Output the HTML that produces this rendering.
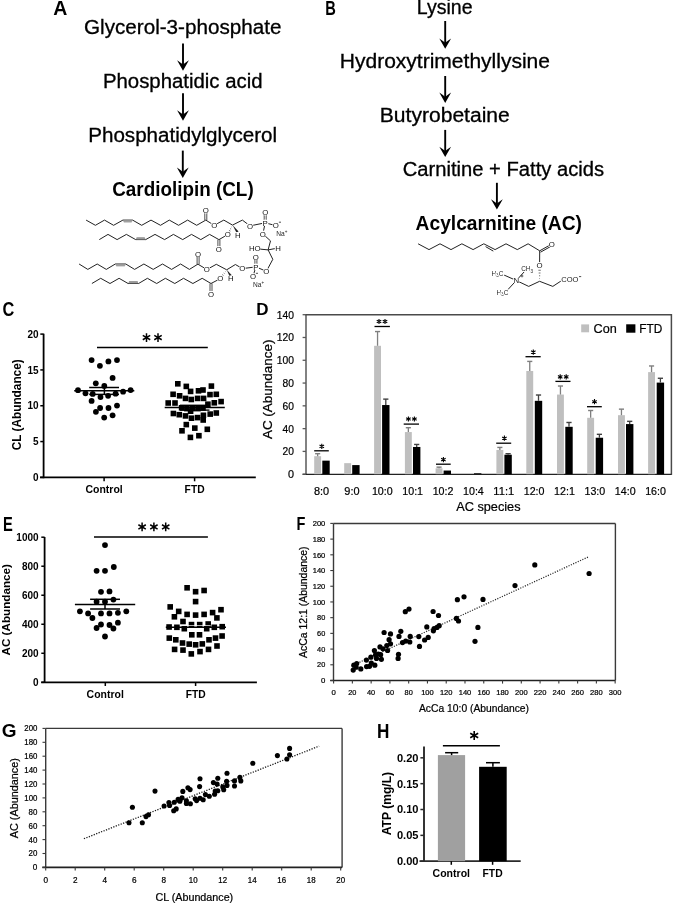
<!DOCTYPE html>
<html><head><meta charset="utf-8"><style>
html,body{margin:0;padding:0;background:#fff;overflow:hidden;}
svg{display:block;will-change:transform;}
</style></head><body>
<svg width="685" height="903" viewBox="0 0 685 903" font-family="Liberation Sans, sans-serif">
<rect width="685" height="903" fill="#fff"/>
<text x="53.3" y="14.8" font-family="Liberation Sans" font-size="19.5" font-weight="bold" text-anchor="start" fill="#000" >A</text>
<text x="84" y="34.2" font-family="Liberation Sans" font-size="19.4" font-weight="normal" text-anchor="start" fill="#000" textLength="197.4" lengthAdjust="spacingAndGlyphs" stroke="#000" stroke-width="0.3">Glycerol-3-phosphate</text>
<line x1="183" y1="43.5" x2="183" y2="65.7" stroke="#000" stroke-width="1.9" />
<path d="M177.1,60.3 Q180.4,62.5 183,64.6 Q185.6,62.5 188.9,60.3 L183,70.7 Z" fill="#000"/>
<text x="102.9" y="88.4" font-family="Liberation Sans" font-size="19.4" font-weight="normal" text-anchor="start" fill="#000" textLength="159.7" lengthAdjust="spacingAndGlyphs" stroke="#000" stroke-width="0.3">Phosphatidic acid</text>
<line x1="183" y1="93.3" x2="183" y2="115.7" stroke="#000" stroke-width="1.9" />
<path d="M177.1,110.3 Q180.4,112.5 183,114.6 Q185.6,112.5 188.9,110.3 L183,120.7 Z" fill="#000"/>
<text x="88.2" y="142.3" font-family="Liberation Sans" font-size="19.4" font-weight="normal" text-anchor="start" fill="#000" textLength="188.9" lengthAdjust="spacingAndGlyphs" stroke="#000" stroke-width="0.3">Phosphatidylglycerol</text>
<line x1="182.8" y1="150.6" x2="182.8" y2="173" stroke="#000" stroke-width="1.9" />
<path d="M176.9,167.6 Q180.2,169.8 182.8,171.9 Q185.4,169.8 188.7,167.6 L182.8,178 Z" fill="#000"/>
<text x="112.2" y="195.8" font-family="Liberation Sans" font-size="19.4" font-weight="bold" text-anchor="start" fill="#000" textLength="141.5" lengthAdjust="spacingAndGlyphs" >Cardiolipin (CL)</text>
<polyline points="86.1,220.1 95.4,225.3 104.5,220.1 113.6,225.3 122.9,220.1 132.6,220.1 141.7,225.3 151,220.1 160.5,225.3 169.3,220.1 178.6,225.3 187.6,220.1 196.7,225.3 205.8,220.1" fill="none" stroke="#222" stroke-width="1" stroke-linejoin="miter" />
<polyline points="99.3,239.6 108,234.4 117.1,239.6 126.4,234.4 135.7,239.6 145.7,239.6 155,234.4 164.6,239.6 173.4,234.4 182.7,239.6 191.5,234.4 200.8,239.6 209.6,234.4 218.9,239.6" fill="none" stroke="#222" stroke-width="1" stroke-linejoin="miter" />
<polyline points="79.1,264 87.8,269.4 97.2,264 106.3,269.4 115.3,264 125.8,264 134.6,269.4 143.9,264 153.2,269.4 162.5,264 171.6,269.4 180.6,264 189.4,269.4 198.1,264" fill="none" stroke="#222" stroke-width="1" stroke-linejoin="miter" />
<polyline points="91.9,283.5 100.7,278.3 110,283.5 119.1,278.3 128.1,283.5 138.6,283.5 147.4,278.3 156.7,283.5 165.4,278.3 174.8,283.5 183.5,278.3 192.9,283.5 202.2,278.3 211,283.5" fill="none" stroke="#222" stroke-width="1" stroke-linejoin="miter" />
<line x1="123.8" y1="221.9" x2="131.7" y2="221.9" stroke="#888" stroke-width="1" />
<line x1="136.6" y1="237.8" x2="144.8" y2="237.8" stroke="#888" stroke-width="1" />
<line x1="116.2" y1="265.8" x2="124.9" y2="265.8" stroke="#888" stroke-width="1" />
<line x1="129" y1="281.7" x2="137.7" y2="281.7" stroke="#888" stroke-width="1" />
<line x1="123.4" y1="220.95" x2="132.1" y2="220.95" stroke="#999" stroke-width="1.6" />
<line x1="136.2" y1="238.7" x2="145.2" y2="238.7" stroke="#999" stroke-width="1.6" />
<line x1="115.8" y1="264.9" x2="125.3" y2="264.9" stroke="#999" stroke-width="1.6" />
<line x1="128.6" y1="282.6" x2="138.1" y2="282.6" stroke="#999" stroke-width="1.6" />
<line x1="205.8" y1="220.1" x2="214.2" y2="225.3" stroke="#222" stroke-width="1" />
<line x1="214.2" y1="225.3" x2="223.8" y2="220.1" stroke="#222" stroke-width="1" />
<line x1="223.8" y1="220.1" x2="232.5" y2="225.1" stroke="#222" stroke-width="1" />
<line x1="232.5" y1="225.1" x2="242.4" y2="220.1" stroke="#222" stroke-width="1" />
<line x1="242.4" y1="220.1" x2="250" y2="225.9" stroke="#222" stroke-width="1" />
<line x1="250" y1="225.9" x2="265.2" y2="222.8" stroke="#222" stroke-width="1" />
<line x1="265.2" y1="222.8" x2="275.7" y2="225.6" stroke="#222" stroke-width="1" />
<line x1="265.2" y1="222.8" x2="262.9" y2="233.9" stroke="#222" stroke-width="1" />
<line x1="262.9" y1="233.9" x2="270.5" y2="240.9" stroke="#222" stroke-width="1" />
<line x1="270.5" y1="240.9" x2="268.1" y2="249.9" stroke="#222" stroke-width="1" />
<line x1="255" y1="248.6" x2="268.1" y2="249.9" stroke="#222" stroke-width="1" />
<line x1="268.1" y1="249.9" x2="278" y2="248" stroke="#222" stroke-width="1" />
<line x1="268.1" y1="249.9" x2="272.8" y2="259.3" stroke="#222" stroke-width="1" />
<line x1="272.8" y1="259.3" x2="266.4" y2="271.3" stroke="#222" stroke-width="1" />
<line x1="266.4" y1="271.3" x2="255.9" y2="266.9" stroke="#222" stroke-width="1" />
<line x1="255.9" y1="266.9" x2="253" y2="276.2" stroke="#222" stroke-width="1" />
<line x1="255.9" y1="266.9" x2="242.4" y2="268.6" stroke="#222" stroke-width="1" />
<line x1="242.4" y1="268.6" x2="235.4" y2="264.5" stroke="#222" stroke-width="1" />
<line x1="235.4" y1="264.5" x2="226.7" y2="269.8" stroke="#222" stroke-width="1" />
<line x1="226.7" y1="269.8" x2="216.3" y2="264.3" stroke="#222" stroke-width="1" />
<line x1="216.3" y1="264.3" x2="206.9" y2="269.5" stroke="#222" stroke-width="1" />
<line x1="206.9" y1="269.5" x2="198.1" y2="264.3" stroke="#222" stroke-width="1" />
<line x1="218.9" y1="239.7" x2="227.8" y2="234.5" stroke="#222" stroke-width="1" />
<line x1="211" y1="283.5" x2="219.8" y2="278.9" stroke="#222" stroke-width="1" />
<line x1="204.8" y1="220.1" x2="204.8" y2="212.5" stroke="#222" stroke-width="0.8" />
<line x1="206.8" y1="220.1" x2="206.8" y2="212.5" stroke="#222" stroke-width="0.8" />
<line x1="217.9" y1="239.7" x2="217.9" y2="246.5" stroke="#222" stroke-width="0.8" />
<line x1="219.9" y1="239.7" x2="219.9" y2="246.5" stroke="#222" stroke-width="0.8" />
<line x1="197.1" y1="264.3" x2="197.1" y2="256.5" stroke="#222" stroke-width="0.8" />
<line x1="199.1" y1="264.3" x2="199.1" y2="256.5" stroke="#222" stroke-width="0.8" />
<line x1="210" y1="283.5" x2="210" y2="291" stroke="#222" stroke-width="0.8" />
<line x1="212" y1="283.5" x2="212" y2="291" stroke="#222" stroke-width="0.8" />
<line x1="264.2" y1="222.8" x2="264.2" y2="212.3" stroke="#222" stroke-width="0.8" />
<line x1="266.2" y1="222.8" x2="266.2" y2="212.3" stroke="#222" stroke-width="0.8" />
<line x1="254.9" y1="266.9" x2="254.9" y2="256.9" stroke="#222" stroke-width="0.8" />
<line x1="256.9" y1="266.9" x2="256.9" y2="256.9" stroke="#222" stroke-width="0.8" />
<path d="M232.5,225.1 L236.4,232.5 L238.6,231.4 Z" fill="#222"/>
<path d="M226.7,269.8 L229.6,276.2 L231.8,275.2 Z" fill="#222"/>
<line x1="231.79" y1="227.1" x2="231.33" y2="226.86" stroke="#333" stroke-width="0.7" />
<line x1="231.09" y1="229.09" x2="230.15" y2="228.63" stroke="#333" stroke-width="0.7" />
<line x1="230.38" y1="231.09" x2="228.98" y2="230.39" stroke="#333" stroke-width="0.7" />
<line x1="229.67" y1="233.09" x2="227.81" y2="232.15" stroke="#333" stroke-width="0.7" />
<line x1="225.63" y1="271.69" x2="225.21" y2="271.39" stroke="#333" stroke-width="0.7" />
<line x1="224.56" y1="273.59" x2="223.72" y2="272.97" stroke="#333" stroke-width="0.7" />
<line x1="223.49" y1="275.48" x2="222.23" y2="274.56" stroke="#333" stroke-width="0.7" />
<line x1="222.42" y1="277.38" x2="220.74" y2="276.14" stroke="#333" stroke-width="0.7" />
<circle cx="205.8" cy="210.2" r="3.3" fill="#fff"/>
<text x="205.8" y="212.95" font-family="Liberation Sans" font-size="7.8" font-weight="normal" text-anchor="middle" fill="#111" >O</text>
<circle cx="214.2" cy="225.3" r="3.3" fill="#fff"/>
<text x="214.2" y="228.05" font-family="Liberation Sans" font-size="7.8" font-weight="normal" text-anchor="middle" fill="#111" >O</text>
<circle cx="227.8" cy="234.5" r="3.3" fill="#fff"/>
<text x="227.8" y="237.25" font-family="Liberation Sans" font-size="7.8" font-weight="normal" text-anchor="middle" fill="#111" >O</text>
<circle cx="218.9" cy="249.2" r="3.3" fill="#fff"/>
<text x="218.9" y="251.95" font-family="Liberation Sans" font-size="7.8" font-weight="normal" text-anchor="middle" fill="#111" >O</text>
<circle cx="237.8" cy="235.2" r="3.3" fill="#fff"/>
<text x="237.8" y="237.95" font-family="Liberation Sans" font-size="7.8" font-weight="normal" text-anchor="middle" fill="#111" >H</text>
<circle cx="250" cy="225.9" r="3.3" fill="#fff"/>
<text x="250" y="228.65" font-family="Liberation Sans" font-size="7.8" font-weight="normal" text-anchor="middle" fill="#111" >O</text>
<circle cx="265.2" cy="222.8" r="3.3" fill="#fff"/>
<text x="265.2" y="225.55" font-family="Liberation Sans" font-size="7.8" font-weight="normal" text-anchor="middle" fill="#111" >P</text>
<circle cx="265.2" cy="212.3" r="3.3" fill="#fff"/>
<text x="265.2" y="215.05" font-family="Liberation Sans" font-size="7.8" font-weight="normal" text-anchor="middle" fill="#111" >O</text>
<circle cx="275.7" cy="225.6" r="3.3" fill="#fff"/>
<text x="275.7" y="228.35" font-family="Liberation Sans" font-size="7.8" font-weight="normal" text-anchor="middle" fill="#111" >O</text>
<circle cx="262.9" cy="233.9" r="3.3" fill="#fff"/>
<text x="262.9" y="236.65" font-family="Liberation Sans" font-size="7.8" font-weight="normal" text-anchor="middle" fill="#111" >O</text>
<circle cx="278" cy="248" r="3.3" fill="#fff"/>
<text x="278" y="250.75" font-family="Liberation Sans" font-size="7.8" font-weight="normal" text-anchor="middle" fill="#111" >H</text>
<circle cx="266.4" cy="271.3" r="3.3" fill="#fff"/>
<text x="266.4" y="274.05" font-family="Liberation Sans" font-size="7.8" font-weight="normal" text-anchor="middle" fill="#111" >O</text>
<circle cx="255.9" cy="266.9" r="3.3" fill="#fff"/>
<text x="255.9" y="269.65" font-family="Liberation Sans" font-size="7.8" font-weight="normal" text-anchor="middle" fill="#111" >P</text>
<circle cx="255.9" cy="256.9" r="3.3" fill="#fff"/>
<text x="255.9" y="259.65" font-family="Liberation Sans" font-size="7.8" font-weight="normal" text-anchor="middle" fill="#111" >O</text>
<circle cx="253" cy="276.2" r="3.3" fill="#fff"/>
<text x="253" y="278.95" font-family="Liberation Sans" font-size="7.8" font-weight="normal" text-anchor="middle" fill="#111" >O</text>
<circle cx="242.4" cy="268.6" r="3.3" fill="#fff"/>
<text x="242.4" y="271.35" font-family="Liberation Sans" font-size="7.8" font-weight="normal" text-anchor="middle" fill="#111" >O</text>
<circle cx="230.8" cy="278.7" r="3.3" fill="#fff"/>
<text x="230.8" y="281.45" font-family="Liberation Sans" font-size="7.8" font-weight="normal" text-anchor="middle" fill="#111" >H</text>
<circle cx="220.3" cy="278.6" r="3.3" fill="#fff"/>
<text x="220.3" y="281.35" font-family="Liberation Sans" font-size="7.8" font-weight="normal" text-anchor="middle" fill="#111" >O</text>
<circle cx="206.9" cy="269.5" r="3.3" fill="#fff"/>
<text x="206.9" y="272.25" font-family="Liberation Sans" font-size="7.8" font-weight="normal" text-anchor="middle" fill="#111" >O</text>
<circle cx="198.1" cy="253.8" r="3.3" fill="#fff"/>
<text x="198.1" y="256.55" font-family="Liberation Sans" font-size="7.8" font-weight="normal" text-anchor="middle" fill="#111" >O</text>
<circle cx="211" cy="294.2" r="3.3" fill="#fff"/>
<text x="211" y="296.95" font-family="Liberation Sans" font-size="7.8" font-weight="normal" text-anchor="middle" fill="#111" >O</text>
<rect x="249.3" y="244.9" width="11" height="6.6" fill="#fff"/>
<text x="254.8" y="250.95" font-family="Liberation Sans" font-size="7.8" font-weight="normal" text-anchor="middle" fill="#111" >HO</text>
<line x1="278.9" y1="222.2" x2="281" y2="222.2" stroke="#222" stroke-width="0.8" />
<line x1="255.9" y1="273.3" x2="258" y2="273.3" stroke="#222" stroke-width="0.8" />
<text x="276.3" y="235.7" font-family="Liberation Sans" font-size="6.6" font-weight="normal" text-anchor="start" fill="#222" >Na<tspan font-size="4.5" dy="-2.5">+</tspan></text>
<text x="253" y="286.5" font-family="Liberation Sans" font-size="6.6" font-weight="normal" text-anchor="start" fill="#222" >Na<tspan font-size="4.5" dy="-2.5">+</tspan></text>
<text x="325.2" y="14.8" font-family="Liberation Sans" font-size="20" font-weight="bold" text-anchor="start" fill="#000" textLength="10.6" lengthAdjust="spacingAndGlyphs" >B</text>
<text x="416.8" y="14" font-family="Liberation Sans" font-size="19.4" font-weight="normal" text-anchor="start" fill="#000" textLength="55.8" lengthAdjust="spacingAndGlyphs" stroke="#000" stroke-width="0.3">Lysine</text>
<line x1="445.2" y1="21" x2="445.2" y2="43.8" stroke="#000" stroke-width="1.9" />
<path d="M439.3,38.4 Q442.6,40.6 445.2,42.7 Q447.8,40.6 451.1,38.4 L445.2,48.8 Z" fill="#000"/>
<text x="339.8" y="68.4" font-family="Liberation Sans" font-size="19.4" font-weight="normal" text-anchor="start" fill="#000" textLength="210.2" lengthAdjust="spacingAndGlyphs" stroke="#000" stroke-width="0.3">Hydroxytrimethyllysine</text>
<line x1="445.2" y1="76" x2="445.2" y2="98" stroke="#000" stroke-width="1.9" />
<path d="M439.3,92.6 Q442.6,94.8 445.2,96.9 Q447.8,94.8 451.1,92.6 L445.2,103 Z" fill="#000"/>
<text x="379.8" y="122.2" font-family="Liberation Sans" font-size="19.4" font-weight="normal" text-anchor="start" fill="#000" textLength="130" lengthAdjust="spacingAndGlyphs" stroke="#000" stroke-width="0.3">Butyrobetaine</text>
<line x1="445.2" y1="129.9" x2="445.2" y2="152.1" stroke="#000" stroke-width="1.9" />
<path d="M439.3,146.7 Q442.6,148.9 445.2,151 Q447.8,148.9 451.1,146.7 L445.2,157.1 Z" fill="#000"/>
<text x="402.8" y="176" font-family="Liberation Sans" font-size="19.4" font-weight="normal" text-anchor="start" fill="#000" textLength="201.2" lengthAdjust="spacingAndGlyphs" stroke="#000" stroke-width="0.3">Carnitine + Fatty acids</text>
<line x1="496.9" y1="182.8" x2="496.9" y2="204.6" stroke="#000" stroke-width="1.9" />
<path d="M491,199.2 Q494.3,201.4 496.9,203.5 Q499.5,201.4 502.8,199.2 L496.9,209.6 Z" fill="#000"/>
<text x="415.6" y="229.7" font-family="Liberation Sans" font-size="19.4" font-weight="bold" text-anchor="start" fill="#000" textLength="166.4" lengthAdjust="spacingAndGlyphs" >Acylcarnitine (AC)</text>
<polyline points="418.1,243.8 429,249.6 440,243.8 451,249.6 461.9,243.8 473.1,249.6 483.8,243.8 495.1,249.6 506,243.8 517.3,249.6 528.1,243.8 539.7,250.8" fill="none" stroke="#222" stroke-width="1" stroke-linejoin="miter" />
<line x1="485.6" y1="246.6" x2="493.3" y2="251.1" stroke="#222" stroke-width="1" />
<line x1="539.7" y1="250.8" x2="549.5" y2="245.3" stroke="#222" stroke-width="1" />
<line x1="540.5" y1="252.2" x2="550.3" y2="246.7" stroke="#222" stroke-width="1" />
<line x1="539.7" y1="250.8" x2="539.6" y2="265.2" stroke="#222" stroke-width="1" />
<line x1="539.3" y1="278.54" x2="539.9" y2="278.54" stroke="#333" stroke-width="0.7" />
<line x1="539" y1="275.78" x2="540.2" y2="275.78" stroke="#333" stroke-width="0.7" />
<line x1="538.7" y1="273.02" x2="540.5" y2="273.02" stroke="#333" stroke-width="0.7" />
<line x1="538.4" y1="270.26" x2="540.8" y2="270.26" stroke="#333" stroke-width="0.7" />
<line x1="539.6" y1="281.3" x2="528.7" y2="286.4" stroke="#222" stroke-width="1" />
<line x1="528.7" y1="286.4" x2="516.3" y2="280.5" stroke="#222" stroke-width="1" />
<line x1="516.3" y1="280.5" x2="524.5" y2="271.5" stroke="#222" stroke-width="1" />
<line x1="516.3" y1="280.5" x2="504" y2="275" stroke="#222" stroke-width="1" />
<line x1="516.3" y1="280.5" x2="508" y2="289.5" stroke="#222" stroke-width="1" />
<line x1="539.6" y1="281.3" x2="552.8" y2="286.4" stroke="#222" stroke-width="1" />
<line x1="552.8" y1="286.4" x2="562.5" y2="280" stroke="#222" stroke-width="1" />
<circle cx="551.8" cy="244.4" r="3.3" fill="#fff"/>
<text x="551.8" y="247.15" font-family="Liberation Sans" font-size="7.8" font-weight="normal" text-anchor="middle" fill="#111" >O</text>
<circle cx="539.6" cy="265.4" r="3.3" fill="#fff"/>
<text x="539.6" y="268.15" font-family="Liberation Sans" font-size="7.8" font-weight="normal" text-anchor="middle" fill="#111" >O</text>
<circle cx="516.3" cy="280.5" r="3.3" fill="#fff"/>
<text x="516.3" y="283.25" font-family="Liberation Sans" font-size="7.8" font-weight="normal" text-anchor="middle" fill="#111" >N</text>
<line x1="520.6" y1="276" x2="523.4" y2="276" stroke="#222" stroke-width="0.7" />
<line x1="522" y1="274.6" x2="522" y2="277.4" stroke="#222" stroke-width="0.7" />
<text x="521.2" y="271.4" font-family="Liberation Sans" font-size="6.4" font-weight="normal" text-anchor="start" fill="#222" stroke="#fff" stroke-width="2.2" paint-order="stroke">CH<tspan font-size="4.6" dy="1.6">3</tspan></text>
<text x="491.5" y="275.6" font-family="Liberation Sans" font-size="6.4" font-weight="normal" text-anchor="start" fill="#222" stroke="#fff" stroke-width="2.2" paint-order="stroke">H<tspan font-size="4.6" dy="1.6">3</tspan><tspan dy="-1.6">C</tspan></text>
<text x="496.6" y="294.6" font-family="Liberation Sans" font-size="6.4" font-weight="normal" text-anchor="start" fill="#222" stroke="#fff" stroke-width="2.2" paint-order="stroke">H<tspan font-size="4.6" dy="1.6">3</tspan><tspan dy="-1.6">C</tspan></text>
<text x="561.3" y="282.3" font-family="Liberation Sans" font-size="6.4" font-weight="normal" text-anchor="start" fill="#222" textLength="17.2" lengthAdjust="spacingAndGlyphs" stroke="#fff" stroke-width="2.2" paint-order="stroke">COO</text>
<line x1="579" y1="276.6" x2="581.2" y2="276.6" stroke="#222" stroke-width="0.8" />
<text x="2.4" y="315.7" font-family="Liberation Sans" font-size="19.8" font-weight="bold" text-anchor="start" fill="#000" textLength="11.8" lengthAdjust="spacingAndGlyphs" >C</text>
<line x1="43.6" y1="333.7" x2="43.6" y2="478.2" stroke="#000" stroke-width="1.8" />
<line x1="40" y1="477.4" x2="255.8" y2="477.4" stroke="#000" stroke-width="1.7" />
<line x1="40.3" y1="477.4" x2="43.6" y2="477.4" stroke="#000" stroke-width="1.5" />
<text x="38.6" y="481" font-family="Liberation Sans" font-size="10" font-weight="bold" text-anchor="end" fill="#000" >0</text>
<line x1="40.3" y1="441.57" x2="43.6" y2="441.57" stroke="#000" stroke-width="1.5" />
<text x="38.6" y="445.18" font-family="Liberation Sans" font-size="10" font-weight="bold" text-anchor="end" fill="#000" >5</text>
<line x1="40.3" y1="405.75" x2="43.6" y2="405.75" stroke="#000" stroke-width="1.5" />
<text x="38.6" y="409.35" font-family="Liberation Sans" font-size="10" font-weight="bold" text-anchor="end" fill="#000" >10</text>
<line x1="40.3" y1="369.92" x2="43.6" y2="369.92" stroke="#000" stroke-width="1.5" />
<text x="38.6" y="373.52" font-family="Liberation Sans" font-size="10" font-weight="bold" text-anchor="end" fill="#000" >15</text>
<line x1="40.3" y1="334.1" x2="43.6" y2="334.1" stroke="#000" stroke-width="1.5" />
<text x="38.6" y="337.7" font-family="Liberation Sans" font-size="10" font-weight="bold" text-anchor="end" fill="#000" >20</text>
<line x1="104.1" y1="477.4" x2="104.1" y2="481.3" stroke="#000" stroke-width="1.5" />
<line x1="194.6" y1="477.4" x2="194.6" y2="481.3" stroke="#000" stroke-width="1.5" />
<text x="104.1" y="492.8" font-family="Liberation Sans" font-size="11" font-weight="bold" text-anchor="middle" fill="#000" textLength="37.2" lengthAdjust="spacingAndGlyphs" >Control</text>
<text x="194.6" y="492.8" font-family="Liberation Sans" font-size="11" font-weight="bold" text-anchor="middle" fill="#000" textLength="20" lengthAdjust="spacingAndGlyphs" >FTD</text>
<text transform="translate(20.9,404.8) rotate(-90)" x="0" y="0" font-family="Liberation Sans" font-size="12" font-weight="bold" text-anchor="middle" fill="#000" textLength="91" lengthAdjust="spacingAndGlyphs" >CL (Abundance)</text>
<line x1="97" y1="347.5" x2="207.8" y2="347.5" stroke="#000" stroke-width="1.4" />
<path d="M146.5,341.9L146.5,333.3M142.78,339.75L150.22,335.45M150.22,339.75L142.78,335.45" stroke="#000" stroke-width="1.5" fill="none"/>
<path d="M158,341.9L158,333.3M154.28,339.75L161.72,335.45M161.72,339.75L154.28,335.45" stroke="#000" stroke-width="1.5" fill="none"/>
<circle cx="91.6" cy="360.1" r="2.9" fill="#000"/>
<circle cx="99.9" cy="365.8" r="2.9" fill="#000"/>
<circle cx="108.4" cy="361.4" r="2.9" fill="#000"/>
<circle cx="117" cy="360.1" r="2.9" fill="#000"/>
<circle cx="112.6" cy="377.9" r="2.9" fill="#000"/>
<circle cx="95.8" cy="383.3" r="2.9" fill="#000"/>
<circle cx="104.3" cy="385.9" r="2.9" fill="#000"/>
<circle cx="78" cy="390.2" r="2.9" fill="#000"/>
<circle cx="85.5" cy="393.3" r="2.9" fill="#000"/>
<circle cx="92.7" cy="393.9" r="2.9" fill="#000"/>
<circle cx="100.5" cy="397.1" r="2.9" fill="#000"/>
<circle cx="108.1" cy="395.8" r="2.9" fill="#000"/>
<circle cx="115.6" cy="393.7" r="2.9" fill="#000"/>
<circle cx="123.1" cy="391.7" r="2.9" fill="#000"/>
<circle cx="130.6" cy="390.1" r="2.9" fill="#000"/>
<circle cx="91.6" cy="400.9" r="2.9" fill="#000"/>
<circle cx="100.1" cy="408" r="2.9" fill="#000"/>
<circle cx="108.5" cy="408" r="2.9" fill="#000"/>
<circle cx="117" cy="405.6" r="2.9" fill="#000"/>
<circle cx="95.9" cy="411.8" r="2.9" fill="#000"/>
<circle cx="112.6" cy="415.3" r="2.9" fill="#000"/>
<circle cx="104.2" cy="417.6" r="2.9" fill="#000"/>
<line x1="74.2" y1="390.8" x2="134.3" y2="390.8" stroke="#000" stroke-width="1.5" />
<line x1="89.2" y1="387.5" x2="119" y2="387.5" stroke="#000" stroke-width="1.5" />
<line x1="89.2" y1="394.4" x2="119" y2="394.4" stroke="#000" stroke-width="1.5" />
<line x1="104.4" y1="387.5" x2="104.4" y2="394.4" stroke="#000" stroke-width="1.5" />
<rect x="175" y="381" width="5.6" height="5.6" fill="#000"/>
<rect x="183.5" y="383.6" width="5.6" height="5.6" fill="#000"/>
<rect x="208.6" y="383.3" width="5.6" height="5.6" fill="#000"/>
<rect x="187.8" y="388.6" width="5.6" height="5.6" fill="#000"/>
<rect x="195.7" y="388" width="5.6" height="5.6" fill="#000"/>
<rect x="200.2" y="387.2" width="5.6" height="5.6" fill="#000"/>
<rect x="170.3" y="391.5" width="5.6" height="5.6" fill="#000"/>
<rect x="176.8" y="393" width="5.6" height="5.6" fill="#000"/>
<rect x="207.2" y="391.8" width="5.6" height="5.6" fill="#000"/>
<rect x="213.5" y="391.5" width="5.6" height="5.6" fill="#000"/>
<rect x="182.7" y="395.6" width="5.6" height="5.6" fill="#000"/>
<rect x="188.5" y="396.7" width="5.6" height="5.6" fill="#000"/>
<rect x="194.8" y="395.6" width="5.6" height="5.6" fill="#000"/>
<rect x="200.8" y="395.6" width="5.6" height="5.6" fill="#000"/>
<rect x="165.4" y="400.2" width="5.6" height="5.6" fill="#000"/>
<rect x="172.2" y="400.2" width="5.6" height="5.6" fill="#000"/>
<rect x="205.1" y="401.4" width="5.6" height="5.6" fill="#000"/>
<rect x="211.5" y="400" width="5.6" height="5.6" fill="#000"/>
<rect x="218.3" y="398.8" width="5.6" height="5.6" fill="#000"/>
<rect x="178.8" y="405" width="5.6" height="5.6" fill="#000"/>
<rect x="184.1" y="405.8" width="5.6" height="5.6" fill="#000"/>
<rect x="189.7" y="405.8" width="5.6" height="5.6" fill="#000"/>
<rect x="195.2" y="405.8" width="5.6" height="5.6" fill="#000"/>
<rect x="200.2" y="405.2" width="5.6" height="5.6" fill="#000"/>
<rect x="187.8" y="408.4" width="5.6" height="5.6" fill="#000"/>
<rect x="170.6" y="410.7" width="5.6" height="5.6" fill="#000"/>
<rect x="176.5" y="411.9" width="5.6" height="5.6" fill="#000"/>
<rect x="182.7" y="413.1" width="5.6" height="5.6" fill="#000"/>
<rect x="188.7" y="415.4" width="5.6" height="5.6" fill="#000"/>
<rect x="194.8" y="414.8" width="5.6" height="5.6" fill="#000"/>
<rect x="200.6" y="412.5" width="5.6" height="5.6" fill="#000"/>
<rect x="207.4" y="411.3" width="5.6" height="5.6" fill="#000"/>
<rect x="213.5" y="410.2" width="5.6" height="5.6" fill="#000"/>
<rect x="200.4" y="417.2" width="5.6" height="5.6" fill="#000"/>
<rect x="183.5" y="421.8" width="5.6" height="5.6" fill="#000"/>
<rect x="192" y="425.3" width="5.6" height="5.6" fill="#000"/>
<rect x="204.5" y="426.5" width="5.6" height="5.6" fill="#000"/>
<rect x="179.2" y="428" width="5.6" height="5.6" fill="#000"/>
<rect x="187.6" y="434.6" width="5.6" height="5.6" fill="#000"/>
<rect x="196.1" y="432.9" width="5.6" height="5.6" fill="#000"/>
<line x1="164.7" y1="407.6" x2="224.8" y2="407.6" stroke="#000" stroke-width="1.5" />
<line x1="180" y1="405.3" x2="209.5" y2="405.3" stroke="#000" stroke-width="1.4" />
<line x1="180" y1="410.1" x2="209.5" y2="410.1" stroke="#000" stroke-width="1.4" />
<text x="256.2" y="315" font-family="Liberation Sans" font-size="17" font-weight="bold" text-anchor="start" fill="#000" >D</text>
<line x1="306" y1="314.7" x2="306" y2="474.2" stroke="#595959" stroke-width="1.5" />
<line x1="305.3" y1="314.7" x2="671.5" y2="314.7" stroke="#4a4a4a" stroke-width="1.5" />
<line x1="671.4" y1="314" x2="671.4" y2="474.9" stroke="#4a4a4a" stroke-width="1.5" />
<line x1="302.6" y1="474.4" x2="671.5" y2="474.4" stroke="#222" stroke-width="1.3" />
<line x1="302.6" y1="474.2" x2="306" y2="474.2" stroke="#595959" stroke-width="1.3" />
<text x="294" y="478.1" font-family="Liberation Sans" font-size="10.8" font-weight="normal" text-anchor="end" fill="#000" stroke="#000" stroke-width="0.22">0</text>
<line x1="302.6" y1="451.41" x2="306" y2="451.41" stroke="#595959" stroke-width="1.3" />
<text x="294" y="455.31" font-family="Liberation Sans" font-size="10.8" font-weight="normal" text-anchor="end" fill="#000" textLength="11.4" lengthAdjust="spacingAndGlyphs" stroke="#000" stroke-width="0.22">20</text>
<line x1="302.6" y1="428.63" x2="306" y2="428.63" stroke="#595959" stroke-width="1.3" />
<text x="294" y="432.53" font-family="Liberation Sans" font-size="10.8" font-weight="normal" text-anchor="end" fill="#000" textLength="11.4" lengthAdjust="spacingAndGlyphs" stroke="#000" stroke-width="0.22">40</text>
<line x1="302.6" y1="405.84" x2="306" y2="405.84" stroke="#595959" stroke-width="1.3" />
<text x="294" y="409.74" font-family="Liberation Sans" font-size="10.8" font-weight="normal" text-anchor="end" fill="#000" textLength="11.4" lengthAdjust="spacingAndGlyphs" stroke="#000" stroke-width="0.22">60</text>
<line x1="302.6" y1="383.06" x2="306" y2="383.06" stroke="#595959" stroke-width="1.3" />
<text x="294" y="386.96" font-family="Liberation Sans" font-size="10.8" font-weight="normal" text-anchor="end" fill="#000" textLength="11.4" lengthAdjust="spacingAndGlyphs" stroke="#000" stroke-width="0.22">80</text>
<line x1="302.6" y1="360.27" x2="306" y2="360.27" stroke="#595959" stroke-width="1.3" />
<text x="294" y="364.17" font-family="Liberation Sans" font-size="10.8" font-weight="normal" text-anchor="end" fill="#000" textLength="17.2" lengthAdjust="spacingAndGlyphs" stroke="#000" stroke-width="0.22">100</text>
<line x1="302.6" y1="337.48" x2="306" y2="337.48" stroke="#595959" stroke-width="1.3" />
<text x="294" y="341.38" font-family="Liberation Sans" font-size="10.8" font-weight="normal" text-anchor="end" fill="#000" textLength="17.2" lengthAdjust="spacingAndGlyphs" stroke="#000" stroke-width="0.22">120</text>
<line x1="302.6" y1="314.7" x2="306" y2="314.7" stroke="#595959" stroke-width="1.3" />
<text x="294" y="318.6" font-family="Liberation Sans" font-size="10.8" font-weight="normal" text-anchor="end" fill="#000" textLength="17.2" lengthAdjust="spacingAndGlyphs" stroke="#000" stroke-width="0.22">140</text>
<rect x="314.2" y="456.2" width="6.9" height="18" fill="#bfbfbf"/>
<line x1="317.65" y1="453.69" x2="317.65" y2="456.2" stroke="#7f7f7f" stroke-width="1.3" />
<line x1="315.1" y1="453.69" x2="320.2" y2="453.69" stroke="#7f7f7f" stroke-width="1.4" />
<rect x="322.3" y="460.64" width="7.4" height="13.56" fill="#000"/>
<text x="321.6" y="495.4" font-family="Liberation Sans" font-size="11.6" font-weight="normal" text-anchor="middle" fill="#000" textLength="15.2" lengthAdjust="spacingAndGlyphs" stroke="#000" stroke-width="0.22">8:0</text>
<rect x="344.2" y="463.15" width="6.9" height="11.05" fill="#bfbfbf"/>
<rect x="352.2" y="465.09" width="7.4" height="9.11" fill="#000"/>
<text x="351.96" y="495.4" font-family="Liberation Sans" font-size="11.6" font-weight="normal" text-anchor="middle" fill="#000" textLength="15.2" lengthAdjust="spacingAndGlyphs" stroke="#000" stroke-width="0.22">9:0</text>
<rect x="374.1" y="345.8" width="6.9" height="128.4" fill="#bfbfbf"/>
<line x1="377.55" y1="331.56" x2="377.55" y2="345.8" stroke="#7f7f7f" stroke-width="1.3" />
<line x1="375" y1="331.56" x2="380.1" y2="331.56" stroke="#7f7f7f" stroke-width="1.4" />
<rect x="382.1" y="405.04" width="7.4" height="69.16" fill="#000"/>
<line x1="385.8" y1="399.12" x2="385.8" y2="405.04" stroke="#404040" stroke-width="1.3" />
<line x1="383.2" y1="399.12" x2="388.4" y2="399.12" stroke="#404040" stroke-width="1.4" />
<text x="382.32" y="495.4" font-family="Liberation Sans" font-size="11.6" font-weight="normal" text-anchor="middle" fill="#000" textLength="20.8" lengthAdjust="spacingAndGlyphs" stroke="#000" stroke-width="0.22">10:0</text>
<rect x="404.9" y="432.05" width="6.9" height="42.15" fill="#bfbfbf"/>
<line x1="408.35" y1="427.72" x2="408.35" y2="432.05" stroke="#7f7f7f" stroke-width="1.3" />
<line x1="405.8" y1="427.72" x2="410.9" y2="427.72" stroke="#7f7f7f" stroke-width="1.4" />
<rect x="413" y="446.97" width="7.4" height="27.23" fill="#000"/>
<line x1="416.7" y1="444.46" x2="416.7" y2="446.97" stroke="#404040" stroke-width="1.3" />
<line x1="414.1" y1="444.46" x2="419.3" y2="444.46" stroke="#404040" stroke-width="1.4" />
<text x="412.68" y="495.4" font-family="Liberation Sans" font-size="11.6" font-weight="normal" text-anchor="middle" fill="#000" textLength="20.8" lengthAdjust="spacingAndGlyphs" stroke="#000" stroke-width="0.22">10:1</text>
<rect x="435.6" y="468.28" width="6.9" height="5.92" fill="#bfbfbf"/>
<line x1="439.05" y1="467.14" x2="439.05" y2="468.28" stroke="#7f7f7f" stroke-width="1.3" />
<line x1="436.5" y1="467.14" x2="441.6" y2="467.14" stroke="#7f7f7f" stroke-width="1.4" />
<rect x="443.6" y="470.55" width="7.4" height="3.65" fill="#000"/>
<text x="443.04" y="495.4" font-family="Liberation Sans" font-size="11.6" font-weight="normal" text-anchor="middle" fill="#000" textLength="20.8" lengthAdjust="spacingAndGlyphs" stroke="#000" stroke-width="0.22">10:2</text>
<rect x="474" y="473.29" width="7.4" height="0.91" fill="#000"/>
<text x="473.4" y="495.4" font-family="Liberation Sans" font-size="11.6" font-weight="normal" text-anchor="middle" fill="#000" textLength="20.8" lengthAdjust="spacingAndGlyphs" stroke="#000" stroke-width="0.22">10:4</text>
<rect x="496.4" y="449.93" width="6.9" height="24.27" fill="#bfbfbf"/>
<line x1="499.85" y1="447.43" x2="499.85" y2="449.93" stroke="#7f7f7f" stroke-width="1.3" />
<line x1="497.3" y1="447.43" x2="502.4" y2="447.43" stroke="#7f7f7f" stroke-width="1.4" />
<rect x="504.4" y="454.72" width="7.4" height="19.48" fill="#000"/>
<line x1="508.1" y1="453.69" x2="508.1" y2="454.72" stroke="#404040" stroke-width="1.3" />
<line x1="505.5" y1="453.69" x2="510.7" y2="453.69" stroke="#404040" stroke-width="1.4" />
<text x="503.76" y="495.4" font-family="Liberation Sans" font-size="11.6" font-weight="normal" text-anchor="middle" fill="#000" textLength="20.8" lengthAdjust="spacingAndGlyphs" stroke="#000" stroke-width="0.22">11:1</text>
<rect x="526.3" y="370.98" width="6.9" height="103.22" fill="#bfbfbf"/>
<line x1="529.75" y1="361.41" x2="529.75" y2="370.98" stroke="#7f7f7f" stroke-width="1.3" />
<line x1="527.2" y1="361.41" x2="532.3" y2="361.41" stroke="#7f7f7f" stroke-width="1.4" />
<rect x="534.8" y="400.83" width="7.4" height="73.37" fill="#000"/>
<line x1="538.5" y1="395.02" x2="538.5" y2="400.83" stroke="#404040" stroke-width="1.3" />
<line x1="535.9" y1="395.02" x2="541.1" y2="395.02" stroke="#404040" stroke-width="1.4" />
<text x="534.12" y="495.4" font-family="Liberation Sans" font-size="11.6" font-weight="normal" text-anchor="middle" fill="#000" textLength="20.8" lengthAdjust="spacingAndGlyphs" stroke="#000" stroke-width="0.22">12:0</text>
<rect x="557" y="394.56" width="6.9" height="79.64" fill="#bfbfbf"/>
<line x1="560.45" y1="386.02" x2="560.45" y2="394.56" stroke="#7f7f7f" stroke-width="1.3" />
<line x1="557.9" y1="386.02" x2="563" y2="386.02" stroke="#7f7f7f" stroke-width="1.4" />
<rect x="565.3" y="426.81" width="7.4" height="47.39" fill="#000"/>
<line x1="569" y1="422.48" x2="569" y2="426.81" stroke="#404040" stroke-width="1.3" />
<line x1="566.4" y1="422.48" x2="571.6" y2="422.48" stroke="#404040" stroke-width="1.4" />
<text x="564.48" y="495.4" font-family="Liberation Sans" font-size="11.6" font-weight="normal" text-anchor="middle" fill="#000" textLength="20.8" lengthAdjust="spacingAndGlyphs" stroke="#000" stroke-width="0.22">12:1</text>
<rect x="587.2" y="417.8" width="6.9" height="56.4" fill="#bfbfbf"/>
<line x1="590.65" y1="410.51" x2="590.65" y2="417.8" stroke="#7f7f7f" stroke-width="1.3" />
<line x1="588.1" y1="410.51" x2="593.2" y2="410.51" stroke="#7f7f7f" stroke-width="1.4" />
<rect x="595.7" y="437.74" width="7.4" height="36.46" fill="#000"/>
<line x1="599.4" y1="434.32" x2="599.4" y2="437.74" stroke="#404040" stroke-width="1.3" />
<line x1="596.8" y1="434.32" x2="602" y2="434.32" stroke="#404040" stroke-width="1.4" />
<text x="594.84" y="495.4" font-family="Liberation Sans" font-size="11.6" font-weight="normal" text-anchor="middle" fill="#000" textLength="20.8" lengthAdjust="spacingAndGlyphs" stroke="#000" stroke-width="0.22">13:0</text>
<rect x="618" y="415.18" width="6.9" height="59.02" fill="#bfbfbf"/>
<line x1="621.45" y1="409.15" x2="621.45" y2="415.18" stroke="#7f7f7f" stroke-width="1.3" />
<line x1="618.9" y1="409.15" x2="624" y2="409.15" stroke="#7f7f7f" stroke-width="1.4" />
<rect x="626" y="424.07" width="7.4" height="50.13" fill="#000"/>
<line x1="629.7" y1="421.34" x2="629.7" y2="424.07" stroke="#404040" stroke-width="1.3" />
<line x1="627.1" y1="421.34" x2="632.3" y2="421.34" stroke="#404040" stroke-width="1.4" />
<text x="625.2" y="495.4" font-family="Liberation Sans" font-size="11.6" font-weight="normal" text-anchor="middle" fill="#000" textLength="20.8" lengthAdjust="spacingAndGlyphs" stroke="#000" stroke-width="0.22">14:0</text>
<rect x="648.1" y="372.12" width="6.9" height="102.08" fill="#bfbfbf"/>
<line x1="651.55" y1="365.97" x2="651.55" y2="372.12" stroke="#7f7f7f" stroke-width="1.3" />
<line x1="649" y1="365.97" x2="654.1" y2="365.97" stroke="#7f7f7f" stroke-width="1.4" />
<rect x="656.7" y="382.6" width="7.4" height="91.6" fill="#000"/>
<line x1="660.4" y1="378.27" x2="660.4" y2="382.6" stroke="#404040" stroke-width="1.3" />
<line x1="657.8" y1="378.27" x2="663" y2="378.27" stroke="#404040" stroke-width="1.4" />
<text x="655.56" y="495.4" font-family="Liberation Sans" font-size="11.6" font-weight="normal" text-anchor="middle" fill="#000" textLength="20.8" lengthAdjust="spacingAndGlyphs" stroke="#000" stroke-width="0.22">16:0</text>
<line x1="314.2" y1="450.8" x2="328.8" y2="450.8" stroke="#000" stroke-width="1.3" />
<path d="M321.8,449L321.8,443.8M319.55,447.7L324.05,445.1M324.05,447.7L319.55,445.1" stroke="#000" stroke-width="1.1" fill="none"/>
<line x1="374.5" y1="326.5" x2="389.9" y2="326.5" stroke="#000" stroke-width="1.3" />
<path d="M379,324.1L379,318.9M376.75,322.8L381.25,320.2M381.25,322.8L376.75,320.2" stroke="#000" stroke-width="1.1" fill="none"/>
<path d="M385,324.1L385,318.9M382.75,322.8L387.25,320.2M387.25,322.8L382.75,320.2" stroke="#000" stroke-width="1.1" fill="none"/>
<line x1="403.7" y1="424.1" x2="419" y2="424.1" stroke="#000" stroke-width="1.3" />
<path d="M408.4,421.6L408.4,416.4M406.15,420.3L410.65,417.7M410.65,420.3L406.15,417.7" stroke="#000" stroke-width="1.1" fill="none"/>
<path d="M414.4,421.6L414.4,416.4M412.15,420.3L416.65,417.7M416.65,420.3L412.15,417.7" stroke="#000" stroke-width="1.1" fill="none"/>
<line x1="436" y1="464.2" x2="450.7" y2="464.2" stroke="#000" stroke-width="1.3" />
<path d="M443.4,462.2L443.4,457M441.15,460.9L445.65,458.3M445.65,460.9L441.15,458.3" stroke="#000" stroke-width="1.1" fill="none"/>
<line x1="496.2" y1="443.2" x2="511.2" y2="443.2" stroke="#000" stroke-width="1.3" />
<path d="M504.4,440.8L504.4,435.6M502.15,439.5L506.65,436.9M506.65,439.5L502.15,436.9" stroke="#000" stroke-width="1.1" fill="none"/>
<line x1="525.5" y1="356.7" x2="540.7" y2="356.7" stroke="#000" stroke-width="1.3" />
<path d="M533.3,354.7L533.3,349.5M531.05,353.4L535.55,350.8M535.55,353.4L531.05,350.8" stroke="#000" stroke-width="1.1" fill="none"/>
<line x1="555.4" y1="381.4" x2="570.5" y2="381.4" stroke="#000" stroke-width="1.3" />
<path d="M560.2,379.5L560.2,374.3M557.95,378.2L562.45,375.6M562.45,378.2L557.95,375.6" stroke="#000" stroke-width="1.1" fill="none"/>
<path d="M566.2,379.5L566.2,374.3M563.95,378.2L568.45,375.6M568.45,378.2L563.95,375.6" stroke="#000" stroke-width="1.1" fill="none"/>
<line x1="587" y1="406.7" x2="601.8" y2="406.7" stroke="#000" stroke-width="1.3" />
<path d="M594.5,404.3L594.5,399.1M592.25,403L596.75,400.4M596.75,403L592.25,400.4" stroke="#000" stroke-width="1.1" fill="none"/>
<text x="456.3" y="511.4" font-family="Liberation Sans" font-size="12.8" font-weight="normal" text-anchor="start" fill="#000" textLength="64.2" lengthAdjust="spacingAndGlyphs" stroke="#000" stroke-width="0.22">AC species</text>
<text transform="translate(272.1,389.3) rotate(-90)" x="0" y="0" font-family="Liberation Sans" font-size="13.2" font-weight="normal" text-anchor="middle" fill="#000" textLength="99.6" lengthAdjust="spacingAndGlyphs" stroke="#000" stroke-width="0.22">AC (Abundance)</text>
<rect x="581.2" y="324.4" width="7.9" height="7.9" fill="#bfbfbf"/>
<text x="593.6" y="332.9" font-family="Liberation Sans" font-size="13.2" font-weight="normal" text-anchor="start" fill="#000" textLength="23.2" lengthAdjust="spacingAndGlyphs" stroke="#000" stroke-width="0.22">Con</text>
<rect x="626.2" y="324.3" width="9.2" height="8.4" fill="#000"/>
<text x="639.2" y="332.9" font-family="Liberation Sans" font-size="13.2" font-weight="normal" text-anchor="start" fill="#000" textLength="23" lengthAdjust="spacingAndGlyphs" stroke="#000" stroke-width="0.22">FTD</text>
<text x="2.9" y="530.7" font-family="Liberation Sans" font-size="19.5" font-weight="bold" text-anchor="start" fill="#000" textLength="9.8" lengthAdjust="spacingAndGlyphs" >E</text>
<line x1="44.6" y1="537" x2="44.6" y2="683" stroke="#000" stroke-width="1.8" />
<line x1="41.2" y1="682.3" x2="256.9" y2="682.3" stroke="#000" stroke-width="1.7" />
<line x1="41.3" y1="682.3" x2="44.6" y2="682.3" stroke="#000" stroke-width="1.5" />
<text x="38.6" y="685.9" font-family="Liberation Sans" font-size="10" font-weight="bold" text-anchor="end" fill="#000" >0</text>
<line x1="41.3" y1="653.28" x2="44.6" y2="653.28" stroke="#000" stroke-width="1.5" />
<text x="38.6" y="656.88" font-family="Liberation Sans" font-size="10" font-weight="bold" text-anchor="end" fill="#000" >200</text>
<line x1="41.3" y1="624.26" x2="44.6" y2="624.26" stroke="#000" stroke-width="1.5" />
<text x="38.6" y="627.86" font-family="Liberation Sans" font-size="10" font-weight="bold" text-anchor="end" fill="#000" >400</text>
<line x1="41.3" y1="595.24" x2="44.6" y2="595.24" stroke="#000" stroke-width="1.5" />
<text x="38.6" y="598.84" font-family="Liberation Sans" font-size="10" font-weight="bold" text-anchor="end" fill="#000" >600</text>
<line x1="41.3" y1="566.22" x2="44.6" y2="566.22" stroke="#000" stroke-width="1.5" />
<text x="38.6" y="569.82" font-family="Liberation Sans" font-size="10" font-weight="bold" text-anchor="end" fill="#000" >800</text>
<line x1="41.3" y1="537.2" x2="44.6" y2="537.2" stroke="#000" stroke-width="1.5" />
<text x="38.6" y="540.8" font-family="Liberation Sans" font-size="10" font-weight="bold" text-anchor="end" fill="#000" >1000</text>
<line x1="105.3" y1="682.3" x2="105.3" y2="686" stroke="#000" stroke-width="1.5" />
<line x1="195.6" y1="682.3" x2="195.6" y2="686" stroke="#000" stroke-width="1.5" />
<text x="105.2" y="697.5" font-family="Liberation Sans" font-size="11" font-weight="bold" text-anchor="middle" fill="#000" textLength="37.2" lengthAdjust="spacingAndGlyphs" >Control</text>
<text x="195.7" y="697.7" font-family="Liberation Sans" font-size="11" font-weight="bold" text-anchor="middle" fill="#000" textLength="20" lengthAdjust="spacingAndGlyphs" >FTD</text>
<text transform="translate(9.8,609.8) rotate(-90)" x="0" y="0" font-family="Liberation Sans" font-size="11.8" font-weight="bold" text-anchor="middle" fill="#000" textLength="91.5" lengthAdjust="spacingAndGlyphs" >AC (Abundance)</text>
<line x1="94" y1="537" x2="207.9" y2="537" stroke="#000" stroke-width="1.4" />
<path d="M142.1,531.2L142.1,522.6M138.38,529.05L145.82,524.75M145.82,529.05L138.38,524.75" stroke="#000" stroke-width="1.5" fill="none"/>
<path d="M153.9,531.2L153.9,522.6M150.18,529.05L157.62,524.75M157.62,529.05L150.18,524.75" stroke="#000" stroke-width="1.5" fill="none"/>
<path d="M165.7,531.2L165.7,522.6M161.98,529.05L169.42,524.75M169.42,529.05L161.98,524.75" stroke="#000" stroke-width="1.5" fill="none"/>
<circle cx="105" cy="545.1" r="2.9" fill="#000"/>
<circle cx="96.6" cy="570.8" r="2.9" fill="#000"/>
<circle cx="105" cy="570.8" r="2.9" fill="#000"/>
<circle cx="113.8" cy="567" r="2.9" fill="#000"/>
<circle cx="101" cy="591.8" r="2.9" fill="#000"/>
<circle cx="109.5" cy="591.4" r="2.9" fill="#000"/>
<circle cx="113.4" cy="599.6" r="2.9" fill="#000"/>
<circle cx="96.6" cy="601.7" r="2.9" fill="#000"/>
<circle cx="105" cy="601.7" r="2.9" fill="#000"/>
<circle cx="79.9" cy="611.3" r="2.9" fill="#000"/>
<circle cx="88.1" cy="613.4" r="2.9" fill="#000"/>
<circle cx="92.4" cy="618" r="2.9" fill="#000"/>
<circle cx="101" cy="613.4" r="2.9" fill="#000"/>
<circle cx="109.5" cy="613.4" r="2.9" fill="#000"/>
<circle cx="117.9" cy="612.8" r="2.9" fill="#000"/>
<circle cx="126.3" cy="611.3" r="2.9" fill="#000"/>
<circle cx="101" cy="624.5" r="2.9" fill="#000"/>
<circle cx="96.6" cy="628" r="2.9" fill="#000"/>
<circle cx="109.5" cy="625" r="2.9" fill="#000"/>
<circle cx="113.4" cy="628.5" r="2.9" fill="#000"/>
<circle cx="117.9" cy="622.7" r="2.9" fill="#000"/>
<circle cx="105" cy="636.5" r="2.9" fill="#000"/>
<line x1="74.9" y1="604.6" x2="135.2" y2="604.6" stroke="#000" stroke-width="1.5" />
<line x1="90.1" y1="599.3" x2="120" y2="599.3" stroke="#000" stroke-width="1.5" />
<line x1="90.1" y1="609" x2="120" y2="609" stroke="#000" stroke-width="1.5" />
<line x1="105" y1="599.3" x2="105" y2="609" stroke="#000" stroke-width="1.5" />
<rect x="184.3" y="585" width="5.6" height="5.6" fill="#000"/>
<rect x="192.8" y="588.9" width="5.6" height="5.6" fill="#000"/>
<rect x="201.3" y="587.7" width="5.6" height="5.6" fill="#000"/>
<rect x="192.8" y="598.8" width="5.6" height="5.6" fill="#000"/>
<rect x="167.4" y="604.1" width="5.6" height="5.6" fill="#000"/>
<rect x="218.2" y="606.9" width="5.6" height="5.6" fill="#000"/>
<rect x="175.9" y="608.6" width="5.6" height="5.6" fill="#000"/>
<rect x="184.3" y="611.6" width="5.6" height="5.6" fill="#000"/>
<rect x="192.8" y="612.3" width="5.6" height="5.6" fill="#000"/>
<rect x="201.3" y="611.6" width="5.6" height="5.6" fill="#000"/>
<rect x="209.8" y="609.8" width="5.6" height="5.6" fill="#000"/>
<rect x="171.6" y="614" width="5.6" height="5.6" fill="#000"/>
<rect x="214.1" y="615.1" width="5.6" height="5.6" fill="#000"/>
<rect x="180.2" y="618.7" width="5.6" height="5.6" fill="#000"/>
<rect x="188.7" y="621.8" width="5.6" height="5.6" fill="#000"/>
<rect x="196.9" y="621.8" width="5.6" height="5.6" fill="#000"/>
<rect x="205.4" y="621.2" width="5.6" height="5.6" fill="#000"/>
<rect x="166.3" y="624.2" width="5.6" height="5.6" fill="#000"/>
<rect x="174.1" y="624.5" width="5.6" height="5.6" fill="#000"/>
<rect x="181.5" y="625.9" width="5.6" height="5.6" fill="#000"/>
<rect x="203.9" y="625.9" width="5.6" height="5.6" fill="#000"/>
<rect x="211.5" y="624.5" width="5.6" height="5.6" fill="#000"/>
<rect x="219.4" y="623.9" width="5.6" height="5.6" fill="#000"/>
<rect x="189" y="632" width="5.6" height="5.6" fill="#000"/>
<rect x="196.7" y="632" width="5.6" height="5.6" fill="#000"/>
<rect x="166.5" y="635.3" width="5.6" height="5.6" fill="#000"/>
<rect x="173" y="637" width="5.6" height="5.6" fill="#000"/>
<rect x="179.7" y="640.2" width="5.6" height="5.6" fill="#000"/>
<rect x="186.4" y="641.3" width="5.6" height="5.6" fill="#000"/>
<rect x="192.8" y="642" width="5.6" height="5.6" fill="#000"/>
<rect x="199.5" y="641.1" width="5.6" height="5.6" fill="#000"/>
<rect x="206.2" y="637" width="5.6" height="5.6" fill="#000"/>
<rect x="212.7" y="635.3" width="5.6" height="5.6" fill="#000"/>
<rect x="219.3" y="633.2" width="5.6" height="5.6" fill="#000"/>
<rect x="214.2" y="643.2" width="5.6" height="5.6" fill="#000"/>
<rect x="171.8" y="646.6" width="5.6" height="5.6" fill="#000"/>
<rect x="180.2" y="647.3" width="5.6" height="5.6" fill="#000"/>
<rect x="205.7" y="646.6" width="5.6" height="5.6" fill="#000"/>
<rect x="188.5" y="651.1" width="5.6" height="5.6" fill="#000"/>
<rect x="197.2" y="648.8" width="5.6" height="5.6" fill="#000"/>
<line x1="165.8" y1="627.3" x2="226" y2="627.3" stroke="#000" stroke-width="1.5" />
<line x1="180.5" y1="625.5" x2="210.7" y2="625.5" stroke="#fff" stroke-width="0.7" />
<line x1="187.6" y1="628.9" x2="204" y2="628.9" stroke="#fff" stroke-width="0.7" />
<text x="296.6" y="530.4" font-family="Liberation Sans" font-size="18.2" font-weight="bold" text-anchor="start" fill="#000" textLength="8.9" lengthAdjust="spacingAndGlyphs" >F</text>
<line x1="333.5" y1="523.5" x2="333.5" y2="680.5" stroke="#3a3a3a" stroke-width="1.4" />
<line x1="333.5" y1="523.5" x2="615.4" y2="523.5" stroke="#3a3a3a" stroke-width="1.4" />
<line x1="615.4" y1="523.5" x2="615.4" y2="680.5" stroke="#3a3a3a" stroke-width="1.4" />
<line x1="330.2" y1="680.5" x2="615.4" y2="680.5" stroke="#222" stroke-width="1.6" />
<line x1="330.3" y1="680.5" x2="333.5" y2="680.5" stroke="#3a3a3a" stroke-width="1.1" />
<text x="325.3" y="683.2" font-family="Liberation Sans" font-size="7.8" font-weight="normal" text-anchor="end" fill="#000" stroke="#000" stroke-width="0.22">0</text>
<line x1="330.3" y1="664.79" x2="333.5" y2="664.79" stroke="#3a3a3a" stroke-width="1.1" />
<text x="325.3" y="667.49" font-family="Liberation Sans" font-size="7.8" font-weight="normal" text-anchor="end" fill="#000" textLength="8.2" lengthAdjust="spacingAndGlyphs" stroke="#000" stroke-width="0.22">20</text>
<line x1="330.3" y1="649.08" x2="333.5" y2="649.08" stroke="#3a3a3a" stroke-width="1.1" />
<text x="325.3" y="651.78" font-family="Liberation Sans" font-size="7.8" font-weight="normal" text-anchor="end" fill="#000" textLength="8.2" lengthAdjust="spacingAndGlyphs" stroke="#000" stroke-width="0.22">40</text>
<line x1="330.3" y1="633.37" x2="333.5" y2="633.37" stroke="#3a3a3a" stroke-width="1.1" />
<text x="325.3" y="636.07" font-family="Liberation Sans" font-size="7.8" font-weight="normal" text-anchor="end" fill="#000" textLength="8.2" lengthAdjust="spacingAndGlyphs" stroke="#000" stroke-width="0.22">60</text>
<line x1="330.3" y1="617.66" x2="333.5" y2="617.66" stroke="#3a3a3a" stroke-width="1.1" />
<text x="325.3" y="620.36" font-family="Liberation Sans" font-size="7.8" font-weight="normal" text-anchor="end" fill="#000" textLength="8.2" lengthAdjust="spacingAndGlyphs" stroke="#000" stroke-width="0.22">80</text>
<line x1="330.3" y1="601.95" x2="333.5" y2="601.95" stroke="#3a3a3a" stroke-width="1.1" />
<text x="325.3" y="604.65" font-family="Liberation Sans" font-size="7.8" font-weight="normal" text-anchor="end" fill="#000" textLength="12.6" lengthAdjust="spacingAndGlyphs" stroke="#000" stroke-width="0.22">100</text>
<line x1="330.3" y1="586.24" x2="333.5" y2="586.24" stroke="#3a3a3a" stroke-width="1.1" />
<text x="325.3" y="588.94" font-family="Liberation Sans" font-size="7.8" font-weight="normal" text-anchor="end" fill="#000" textLength="12.6" lengthAdjust="spacingAndGlyphs" stroke="#000" stroke-width="0.22">120</text>
<line x1="330.3" y1="570.53" x2="333.5" y2="570.53" stroke="#3a3a3a" stroke-width="1.1" />
<text x="325.3" y="573.23" font-family="Liberation Sans" font-size="7.8" font-weight="normal" text-anchor="end" fill="#000" textLength="12.6" lengthAdjust="spacingAndGlyphs" stroke="#000" stroke-width="0.22">140</text>
<line x1="330.3" y1="554.82" x2="333.5" y2="554.82" stroke="#3a3a3a" stroke-width="1.1" />
<text x="325.3" y="557.52" font-family="Liberation Sans" font-size="7.8" font-weight="normal" text-anchor="end" fill="#000" textLength="12.6" lengthAdjust="spacingAndGlyphs" stroke="#000" stroke-width="0.22">160</text>
<line x1="330.3" y1="539.11" x2="333.5" y2="539.11" stroke="#3a3a3a" stroke-width="1.1" />
<text x="325.3" y="541.81" font-family="Liberation Sans" font-size="7.8" font-weight="normal" text-anchor="end" fill="#000" textLength="12.6" lengthAdjust="spacingAndGlyphs" stroke="#000" stroke-width="0.22">180</text>
<line x1="330.3" y1="523.4" x2="333.5" y2="523.4" stroke="#3a3a3a" stroke-width="1.1" />
<text x="325.3" y="526.1" font-family="Liberation Sans" font-size="7.8" font-weight="normal" text-anchor="end" fill="#000" textLength="12.6" lengthAdjust="spacingAndGlyphs" stroke="#000" stroke-width="0.22">200</text>
<line x1="333.6" y1="680.5" x2="333.6" y2="683.6" stroke="#3a3a3a" stroke-width="1.1" />
<text x="333.6" y="694.7" font-family="Liberation Sans" font-size="7.8" font-weight="normal" text-anchor="middle" fill="#000" stroke="#000" stroke-width="0.22">0</text>
<line x1="352.37" y1="680.5" x2="352.37" y2="683.6" stroke="#3a3a3a" stroke-width="1.1" />
<text x="352.37" y="694.7" font-family="Liberation Sans" font-size="7.8" font-weight="normal" text-anchor="middle" fill="#000" textLength="8.2" lengthAdjust="spacingAndGlyphs" stroke="#000" stroke-width="0.22">20</text>
<line x1="371.14" y1="680.5" x2="371.14" y2="683.6" stroke="#3a3a3a" stroke-width="1.1" />
<text x="371.14" y="694.7" font-family="Liberation Sans" font-size="7.8" font-weight="normal" text-anchor="middle" fill="#000" textLength="8.2" lengthAdjust="spacingAndGlyphs" stroke="#000" stroke-width="0.22">40</text>
<line x1="389.91" y1="680.5" x2="389.91" y2="683.6" stroke="#3a3a3a" stroke-width="1.1" />
<text x="389.91" y="694.7" font-family="Liberation Sans" font-size="7.8" font-weight="normal" text-anchor="middle" fill="#000" textLength="8.2" lengthAdjust="spacingAndGlyphs" stroke="#000" stroke-width="0.22">60</text>
<line x1="408.68" y1="680.5" x2="408.68" y2="683.6" stroke="#3a3a3a" stroke-width="1.1" />
<text x="408.68" y="694.7" font-family="Liberation Sans" font-size="7.8" font-weight="normal" text-anchor="middle" fill="#000" textLength="8.2" lengthAdjust="spacingAndGlyphs" stroke="#000" stroke-width="0.22">80</text>
<line x1="427.45" y1="680.5" x2="427.45" y2="683.6" stroke="#3a3a3a" stroke-width="1.1" />
<text x="427.45" y="694.7" font-family="Liberation Sans" font-size="7.8" font-weight="normal" text-anchor="middle" fill="#000" textLength="12.6" lengthAdjust="spacingAndGlyphs" stroke="#000" stroke-width="0.22">100</text>
<line x1="446.22" y1="680.5" x2="446.22" y2="683.6" stroke="#3a3a3a" stroke-width="1.1" />
<text x="446.22" y="694.7" font-family="Liberation Sans" font-size="7.8" font-weight="normal" text-anchor="middle" fill="#000" textLength="12.6" lengthAdjust="spacingAndGlyphs" stroke="#000" stroke-width="0.22">120</text>
<line x1="464.99" y1="680.5" x2="464.99" y2="683.6" stroke="#3a3a3a" stroke-width="1.1" />
<text x="464.99" y="694.7" font-family="Liberation Sans" font-size="7.8" font-weight="normal" text-anchor="middle" fill="#000" textLength="12.6" lengthAdjust="spacingAndGlyphs" stroke="#000" stroke-width="0.22">140</text>
<line x1="483.76" y1="680.5" x2="483.76" y2="683.6" stroke="#3a3a3a" stroke-width="1.1" />
<text x="483.76" y="694.7" font-family="Liberation Sans" font-size="7.8" font-weight="normal" text-anchor="middle" fill="#000" textLength="12.6" lengthAdjust="spacingAndGlyphs" stroke="#000" stroke-width="0.22">160</text>
<line x1="502.53" y1="680.5" x2="502.53" y2="683.6" stroke="#3a3a3a" stroke-width="1.1" />
<text x="502.53" y="694.7" font-family="Liberation Sans" font-size="7.8" font-weight="normal" text-anchor="middle" fill="#000" textLength="12.6" lengthAdjust="spacingAndGlyphs" stroke="#000" stroke-width="0.22">180</text>
<line x1="521.3" y1="680.5" x2="521.3" y2="683.6" stroke="#3a3a3a" stroke-width="1.1" />
<text x="521.3" y="694.7" font-family="Liberation Sans" font-size="7.8" font-weight="normal" text-anchor="middle" fill="#000" textLength="12.6" lengthAdjust="spacingAndGlyphs" stroke="#000" stroke-width="0.22">200</text>
<line x1="540.07" y1="680.5" x2="540.07" y2="683.6" stroke="#3a3a3a" stroke-width="1.1" />
<text x="540.07" y="694.7" font-family="Liberation Sans" font-size="7.8" font-weight="normal" text-anchor="middle" fill="#000" textLength="12.6" lengthAdjust="spacingAndGlyphs" stroke="#000" stroke-width="0.22">220</text>
<line x1="558.84" y1="680.5" x2="558.84" y2="683.6" stroke="#3a3a3a" stroke-width="1.1" />
<text x="558.84" y="694.7" font-family="Liberation Sans" font-size="7.8" font-weight="normal" text-anchor="middle" fill="#000" textLength="12.6" lengthAdjust="spacingAndGlyphs" stroke="#000" stroke-width="0.22">240</text>
<line x1="577.61" y1="680.5" x2="577.61" y2="683.6" stroke="#3a3a3a" stroke-width="1.1" />
<text x="577.61" y="694.7" font-family="Liberation Sans" font-size="7.8" font-weight="normal" text-anchor="middle" fill="#000" textLength="12.6" lengthAdjust="spacingAndGlyphs" stroke="#000" stroke-width="0.22">260</text>
<line x1="596.38" y1="680.5" x2="596.38" y2="683.6" stroke="#3a3a3a" stroke-width="1.1" />
<text x="596.38" y="694.7" font-family="Liberation Sans" font-size="7.8" font-weight="normal" text-anchor="middle" fill="#000" textLength="12.6" lengthAdjust="spacingAndGlyphs" stroke="#000" stroke-width="0.22">280</text>
<line x1="615.15" y1="680.5" x2="615.15" y2="683.6" stroke="#3a3a3a" stroke-width="1.1" />
<text x="615.15" y="694.7" font-family="Liberation Sans" font-size="7.8" font-weight="normal" text-anchor="middle" fill="#000" textLength="12.6" lengthAdjust="spacingAndGlyphs" stroke="#000" stroke-width="0.22">300</text>
<text x="419" y="711.5" font-family="Liberation Sans" font-size="10.6" font-weight="normal" text-anchor="start" fill="#000" textLength="110" lengthAdjust="spacingAndGlyphs" stroke="#000" stroke-width="0.22">AcCa 10:0 (Abundance)</text>
<text transform="translate(306.8,602.2) rotate(-90)" x="0" y="0" font-family="Liberation Sans" font-size="10.6" font-weight="normal" text-anchor="middle" fill="#000" textLength="111.4" lengthAdjust="spacingAndGlyphs" stroke="#000" stroke-width="0.22">AcCa 12:1 (Abundance)</text>
<line x1="352.5" y1="665.5" x2="588.8" y2="556.7" stroke="#2a2a2a" stroke-width="1.25" stroke-dasharray="1.15,1.38"/>
<circle cx="409" cy="609.1" r="2.6" fill="#000"/>
<circle cx="405.3" cy="611.7" r="2.6" fill="#000"/>
<circle cx="384.1" cy="632.5" r="2.6" fill="#000"/>
<circle cx="390.5" cy="633.9" r="2.6" fill="#000"/>
<circle cx="400.8" cy="631.3" r="2.6" fill="#000"/>
<circle cx="399" cy="636.4" r="2.6" fill="#000"/>
<circle cx="410.2" cy="636.4" r="2.6" fill="#000"/>
<circle cx="418.8" cy="636.6" r="2.6" fill="#000"/>
<circle cx="389.1" cy="639.7" r="2.6" fill="#000"/>
<circle cx="424.6" cy="640" r="2.6" fill="#000"/>
<circle cx="409.8" cy="642" r="2.6" fill="#000"/>
<circle cx="405.7" cy="641.1" r="2.6" fill="#000"/>
<circle cx="402.5" cy="642.6" r="2.6" fill="#000"/>
<circle cx="390.5" cy="643.8" r="2.6" fill="#000"/>
<circle cx="386.8" cy="645.5" r="2.6" fill="#000"/>
<circle cx="380" cy="646.9" r="2.6" fill="#000"/>
<circle cx="383" cy="648.8" r="2.6" fill="#000"/>
<circle cx="387.6" cy="650.5" r="2.6" fill="#000"/>
<circle cx="419.5" cy="646.4" r="2.6" fill="#000"/>
<circle cx="374.4" cy="650.5" r="2.6" fill="#000"/>
<circle cx="378.3" cy="654" r="2.6" fill="#000"/>
<circle cx="380.6" cy="654.7" r="2.6" fill="#000"/>
<circle cx="375.6" cy="654.7" r="2.6" fill="#000"/>
<circle cx="398.5" cy="654.3" r="2.6" fill="#000"/>
<circle cx="398.1" cy="658.4" r="2.6" fill="#000"/>
<circle cx="370.9" cy="657.2" r="2.6" fill="#000"/>
<circle cx="376.5" cy="658.4" r="2.6" fill="#000"/>
<circle cx="381.4" cy="659.3" r="2.6" fill="#000"/>
<circle cx="366.4" cy="660.1" r="2.6" fill="#000"/>
<circle cx="371.3" cy="663.1" r="2.6" fill="#000"/>
<circle cx="374.8" cy="665.2" r="2.6" fill="#000"/>
<circle cx="366.6" cy="666.6" r="2.6" fill="#000"/>
<circle cx="369.5" cy="666.3" r="2.6" fill="#000"/>
<circle cx="356.7" cy="663.6" r="2.6" fill="#000"/>
<circle cx="353.8" cy="665.2" r="2.6" fill="#000"/>
<circle cx="356.1" cy="667.2" r="2.6" fill="#000"/>
<circle cx="353.2" cy="670.1" r="2.6" fill="#000"/>
<circle cx="360.8" cy="668.9" r="2.6" fill="#000"/>
<circle cx="457.4" cy="599.7" r="2.6" fill="#000"/>
<circle cx="464" cy="596.8" r="2.6" fill="#000"/>
<circle cx="483" cy="599.4" r="2.6" fill="#000"/>
<circle cx="433.1" cy="611.5" r="2.6" fill="#000"/>
<circle cx="438.5" cy="615.5" r="2.6" fill="#000"/>
<circle cx="456.4" cy="618.4" r="2.6" fill="#000"/>
<circle cx="458.5" cy="621" r="2.6" fill="#000"/>
<circle cx="426.8" cy="626.9" r="2.6" fill="#000"/>
<circle cx="439.2" cy="625.7" r="2.6" fill="#000"/>
<circle cx="437" cy="627.4" r="2.6" fill="#000"/>
<circle cx="434.1" cy="628.6" r="2.6" fill="#000"/>
<circle cx="433.4" cy="630.8" r="2.6" fill="#000"/>
<circle cx="477.9" cy="627.4" r="2.6" fill="#000"/>
<circle cx="428.2" cy="637.4" r="2.6" fill="#000"/>
<circle cx="475" cy="641.3" r="2.6" fill="#000"/>
<circle cx="534.8" cy="564.9" r="2.6" fill="#000"/>
<circle cx="515" cy="585.6" r="2.6" fill="#000"/>
<circle cx="589.1" cy="573.5" r="2.6" fill="#000"/>
<text x="1.8" y="737.2" font-family="Liberation Sans" font-size="19" font-weight="bold" text-anchor="start" fill="#000" >G</text>
<line x1="45.7" y1="728.4" x2="45.7" y2="867.4" stroke="#3a3a3a" stroke-width="1.4" />
<line x1="45.7" y1="728.4" x2="342.1" y2="728.4" stroke="#3a3a3a" stroke-width="1.4" />
<line x1="342.1" y1="728.4" x2="342.1" y2="867.4" stroke="#3a3a3a" stroke-width="1.4" />
<line x1="42.3" y1="867.4" x2="342.1" y2="867.4" stroke="#222" stroke-width="1.6" />
<line x1="42.5" y1="867.4" x2="45.7" y2="867.4" stroke="#3a3a3a" stroke-width="1.1" />
<text x="37.4" y="870.3" font-family="Liberation Sans" font-size="8.2" font-weight="normal" text-anchor="end" fill="#000" stroke="#000" stroke-width="0.22">0</text>
<line x1="42.5" y1="853.5" x2="45.7" y2="853.5" stroke="#3a3a3a" stroke-width="1.1" />
<text x="37.4" y="856.4" font-family="Liberation Sans" font-size="8.2" font-weight="normal" text-anchor="end" fill="#000" textLength="8.8" lengthAdjust="spacingAndGlyphs" stroke="#000" stroke-width="0.22">20</text>
<line x1="42.5" y1="839.6" x2="45.7" y2="839.6" stroke="#3a3a3a" stroke-width="1.1" />
<text x="37.4" y="842.5" font-family="Liberation Sans" font-size="8.2" font-weight="normal" text-anchor="end" fill="#000" textLength="8.8" lengthAdjust="spacingAndGlyphs" stroke="#000" stroke-width="0.22">40</text>
<line x1="42.5" y1="825.7" x2="45.7" y2="825.7" stroke="#3a3a3a" stroke-width="1.1" />
<text x="37.4" y="828.6" font-family="Liberation Sans" font-size="8.2" font-weight="normal" text-anchor="end" fill="#000" textLength="8.8" lengthAdjust="spacingAndGlyphs" stroke="#000" stroke-width="0.22">60</text>
<line x1="42.5" y1="811.8" x2="45.7" y2="811.8" stroke="#3a3a3a" stroke-width="1.1" />
<text x="37.4" y="814.7" font-family="Liberation Sans" font-size="8.2" font-weight="normal" text-anchor="end" fill="#000" textLength="8.8" lengthAdjust="spacingAndGlyphs" stroke="#000" stroke-width="0.22">80</text>
<line x1="42.5" y1="797.9" x2="45.7" y2="797.9" stroke="#3a3a3a" stroke-width="1.1" />
<text x="37.4" y="800.8" font-family="Liberation Sans" font-size="8.2" font-weight="normal" text-anchor="end" fill="#000" textLength="13.1" lengthAdjust="spacingAndGlyphs" stroke="#000" stroke-width="0.22">100</text>
<line x1="42.5" y1="784" x2="45.7" y2="784" stroke="#3a3a3a" stroke-width="1.1" />
<text x="37.4" y="786.9" font-family="Liberation Sans" font-size="8.2" font-weight="normal" text-anchor="end" fill="#000" textLength="13.1" lengthAdjust="spacingAndGlyphs" stroke="#000" stroke-width="0.22">120</text>
<line x1="42.5" y1="770.1" x2="45.7" y2="770.1" stroke="#3a3a3a" stroke-width="1.1" />
<text x="37.4" y="773" font-family="Liberation Sans" font-size="8.2" font-weight="normal" text-anchor="end" fill="#000" textLength="13.1" lengthAdjust="spacingAndGlyphs" stroke="#000" stroke-width="0.22">140</text>
<line x1="42.5" y1="756.2" x2="45.7" y2="756.2" stroke="#3a3a3a" stroke-width="1.1" />
<text x="37.4" y="759.1" font-family="Liberation Sans" font-size="8.2" font-weight="normal" text-anchor="end" fill="#000" textLength="13.1" lengthAdjust="spacingAndGlyphs" stroke="#000" stroke-width="0.22">160</text>
<line x1="42.5" y1="742.3" x2="45.7" y2="742.3" stroke="#3a3a3a" stroke-width="1.1" />
<text x="37.4" y="745.2" font-family="Liberation Sans" font-size="8.2" font-weight="normal" text-anchor="end" fill="#000" textLength="13.1" lengthAdjust="spacingAndGlyphs" stroke="#000" stroke-width="0.22">180</text>
<line x1="42.5" y1="728.4" x2="45.7" y2="728.4" stroke="#3a3a3a" stroke-width="1.1" />
<text x="37.4" y="731.3" font-family="Liberation Sans" font-size="8.2" font-weight="normal" text-anchor="end" fill="#000" textLength="13.1" lengthAdjust="spacingAndGlyphs" stroke="#000" stroke-width="0.22">200</text>
<line x1="45.7" y1="867.4" x2="45.7" y2="870.5" stroke="#3a3a3a" stroke-width="1.1" />
<text x="45.7" y="883.1" font-family="Liberation Sans" font-size="8.2" font-weight="normal" text-anchor="middle" fill="#000" stroke="#000" stroke-width="0.22">0</text>
<line x1="75.2" y1="867.4" x2="75.2" y2="870.5" stroke="#3a3a3a" stroke-width="1.1" />
<text x="75.2" y="883.1" font-family="Liberation Sans" font-size="8.2" font-weight="normal" text-anchor="middle" fill="#000" stroke="#000" stroke-width="0.22">2</text>
<line x1="104.7" y1="867.4" x2="104.7" y2="870.5" stroke="#3a3a3a" stroke-width="1.1" />
<text x="104.7" y="883.1" font-family="Liberation Sans" font-size="8.2" font-weight="normal" text-anchor="middle" fill="#000" stroke="#000" stroke-width="0.22">4</text>
<line x1="134.2" y1="867.4" x2="134.2" y2="870.5" stroke="#3a3a3a" stroke-width="1.1" />
<text x="134.2" y="883.1" font-family="Liberation Sans" font-size="8.2" font-weight="normal" text-anchor="middle" fill="#000" stroke="#000" stroke-width="0.22">6</text>
<line x1="163.7" y1="867.4" x2="163.7" y2="870.5" stroke="#3a3a3a" stroke-width="1.1" />
<text x="163.7" y="883.1" font-family="Liberation Sans" font-size="8.2" font-weight="normal" text-anchor="middle" fill="#000" stroke="#000" stroke-width="0.22">8</text>
<line x1="193.2" y1="867.4" x2="193.2" y2="870.5" stroke="#3a3a3a" stroke-width="1.1" />
<text x="193.2" y="883.1" font-family="Liberation Sans" font-size="8.2" font-weight="normal" text-anchor="middle" fill="#000" textLength="8.8" lengthAdjust="spacingAndGlyphs" stroke="#000" stroke-width="0.22">10</text>
<line x1="222.7" y1="867.4" x2="222.7" y2="870.5" stroke="#3a3a3a" stroke-width="1.1" />
<text x="222.7" y="883.1" font-family="Liberation Sans" font-size="8.2" font-weight="normal" text-anchor="middle" fill="#000" textLength="8.8" lengthAdjust="spacingAndGlyphs" stroke="#000" stroke-width="0.22">12</text>
<line x1="252.2" y1="867.4" x2="252.2" y2="870.5" stroke="#3a3a3a" stroke-width="1.1" />
<text x="252.2" y="883.1" font-family="Liberation Sans" font-size="8.2" font-weight="normal" text-anchor="middle" fill="#000" textLength="8.8" lengthAdjust="spacingAndGlyphs" stroke="#000" stroke-width="0.22">14</text>
<line x1="281.7" y1="867.4" x2="281.7" y2="870.5" stroke="#3a3a3a" stroke-width="1.1" />
<text x="281.7" y="883.1" font-family="Liberation Sans" font-size="8.2" font-weight="normal" text-anchor="middle" fill="#000" textLength="8.8" lengthAdjust="spacingAndGlyphs" stroke="#000" stroke-width="0.22">16</text>
<line x1="311.2" y1="867.4" x2="311.2" y2="870.5" stroke="#3a3a3a" stroke-width="1.1" />
<text x="311.2" y="883.1" font-family="Liberation Sans" font-size="8.2" font-weight="normal" text-anchor="middle" fill="#000" textLength="8.8" lengthAdjust="spacingAndGlyphs" stroke="#000" stroke-width="0.22">18</text>
<line x1="340.7" y1="867.4" x2="340.7" y2="870.5" stroke="#3a3a3a" stroke-width="1.1" />
<text x="340.7" y="883.1" font-family="Liberation Sans" font-size="8.2" font-weight="normal" text-anchor="middle" fill="#000" textLength="8.8" lengthAdjust="spacingAndGlyphs" stroke="#000" stroke-width="0.22">20</text>
<text x="155.4" y="900.7" font-family="Liberation Sans" font-size="10.6" font-weight="normal" text-anchor="start" fill="#000" textLength="77.8" lengthAdjust="spacingAndGlyphs" stroke="#000" stroke-width="0.22">CL (Abundance)</text>
<text transform="translate(18.1,798.2) rotate(-90)" x="0" y="0" font-family="Liberation Sans" font-size="10.8" font-weight="normal" text-anchor="middle" fill="#000" textLength="80.1" lengthAdjust="spacingAndGlyphs" stroke="#000" stroke-width="0.22">AC (Abundance)</text>
<line x1="83.9" y1="838.7" x2="319.2" y2="746.1" stroke="#1a1a1a" stroke-width="1.3" stroke-dasharray="1.25,1.38"/>
<circle cx="129" cy="822.8" r="2.55" fill="#000"/>
<circle cx="132.4" cy="807.2" r="2.55" fill="#000"/>
<circle cx="142.3" cy="822.8" r="2.55" fill="#000"/>
<circle cx="146" cy="816.6" r="2.55" fill="#000"/>
<circle cx="148.5" cy="814.7" r="2.55" fill="#000"/>
<circle cx="155" cy="791.1" r="2.55" fill="#000"/>
<circle cx="164.1" cy="806" r="2.55" fill="#000"/>
<circle cx="168.9" cy="802.6" r="2.55" fill="#000"/>
<circle cx="169.6" cy="805.5" r="2.55" fill="#000"/>
<circle cx="173.7" cy="810.8" r="2.55" fill="#000"/>
<circle cx="176.2" cy="808.9" r="2.55" fill="#000"/>
<circle cx="174.3" cy="802.3" r="2.55" fill="#000"/>
<circle cx="178.1" cy="799.4" r="2.55" fill="#000"/>
<circle cx="179.9" cy="801.2" r="2.55" fill="#000"/>
<circle cx="182" cy="797.7" r="2.55" fill="#000"/>
<circle cx="182.8" cy="791.4" r="2.55" fill="#000"/>
<circle cx="186.4" cy="800.9" r="2.55" fill="#000"/>
<circle cx="186.4" cy="803.5" r="2.55" fill="#000"/>
<circle cx="190.4" cy="803.8" r="2.55" fill="#000"/>
<circle cx="187.9" cy="787.7" r="2.55" fill="#000"/>
<circle cx="190.1" cy="789.6" r="2.55" fill="#000"/>
<circle cx="200" cy="778.7" r="2.55" fill="#000"/>
<circle cx="199.6" cy="786.6" r="2.55" fill="#000"/>
<circle cx="195.2" cy="798.7" r="2.55" fill="#000"/>
<circle cx="196.6" cy="800.6" r="2.55" fill="#000"/>
<circle cx="200" cy="798.2" r="2.55" fill="#000"/>
<circle cx="203.2" cy="799.7" r="2.55" fill="#000"/>
<circle cx="205.4" cy="794.6" r="2.55" fill="#000"/>
<circle cx="209.3" cy="796.2" r="2.55" fill="#000"/>
<circle cx="213.4" cy="782.6" r="2.55" fill="#000"/>
<circle cx="214.6" cy="794.3" r="2.55" fill="#000"/>
<circle cx="217.1" cy="784.1" r="2.55" fill="#000"/>
<circle cx="217.8" cy="778.2" r="2.55" fill="#000"/>
<circle cx="217.8" cy="790.7" r="2.55" fill="#000"/>
<circle cx="227" cy="773.3" r="2.55" fill="#000"/>
<circle cx="226.6" cy="781.2" r="2.55" fill="#000"/>
<circle cx="227" cy="785.4" r="2.55" fill="#000"/>
<circle cx="222.8" cy="786.9" r="2.55" fill="#000"/>
<circle cx="223.7" cy="789.8" r="2.55" fill="#000"/>
<circle cx="215.2" cy="791.1" r="2.55" fill="#000"/>
<circle cx="234.5" cy="780.9" r="2.55" fill="#000"/>
<circle cx="234.5" cy="786" r="2.55" fill="#000"/>
<circle cx="239.9" cy="777.4" r="2.55" fill="#000"/>
<circle cx="240.8" cy="780.9" r="2.55" fill="#000"/>
<circle cx="252.8" cy="763.2" r="2.55" fill="#000"/>
<circle cx="277.4" cy="755.6" r="2.55" fill="#000"/>
<circle cx="289.6" cy="748.4" r="2.55" fill="#000"/>
<circle cx="289.6" cy="754.7" r="2.55" fill="#000"/>
<circle cx="286.9" cy="759" r="2.55" fill="#000"/>
<text x="377" y="737.6" font-family="Liberation Sans" font-size="19.6" font-weight="bold" text-anchor="start" fill="#000" textLength="12.4" lengthAdjust="spacingAndGlyphs" >H</text>
<line x1="424" y1="746.4" x2="424" y2="861.9" stroke="#2a2a2a" stroke-width="1.9" />
<line x1="419.5" y1="861.2" x2="520.7" y2="861.2" stroke="#2a2a2a" stroke-width="1.8" />
<line x1="420.4" y1="861.2" x2="424" y2="861.2" stroke="#2a2a2a" stroke-width="1.5" />
<text x="418.5" y="865.15" font-family="Liberation Sans" font-size="11" font-weight="bold" text-anchor="end" fill="#000" textLength="21.6" lengthAdjust="spacingAndGlyphs" >0.00</text>
<line x1="420.4" y1="835.36" x2="424" y2="835.36" stroke="#2a2a2a" stroke-width="1.5" />
<text x="418.5" y="839.31" font-family="Liberation Sans" font-size="11" font-weight="bold" text-anchor="end" fill="#000" textLength="21.6" lengthAdjust="spacingAndGlyphs" >0.05</text>
<line x1="420.4" y1="809.51" x2="424" y2="809.51" stroke="#2a2a2a" stroke-width="1.5" />
<text x="418.5" y="813.46" font-family="Liberation Sans" font-size="11" font-weight="bold" text-anchor="end" fill="#000" textLength="21.6" lengthAdjust="spacingAndGlyphs" >0.10</text>
<line x1="420.4" y1="783.67" x2="424" y2="783.67" stroke="#2a2a2a" stroke-width="1.5" />
<text x="418.5" y="787.62" font-family="Liberation Sans" font-size="11" font-weight="bold" text-anchor="end" fill="#000" textLength="21.6" lengthAdjust="spacingAndGlyphs" >0.15</text>
<line x1="420.4" y1="757.82" x2="424" y2="757.82" stroke="#2a2a2a" stroke-width="1.5" />
<text x="418.5" y="761.77" font-family="Liberation Sans" font-size="11" font-weight="bold" text-anchor="end" fill="#000" textLength="21.6" lengthAdjust="spacingAndGlyphs" >0.20</text>
<rect x="437.9" y="755.1" width="27.2" height="106.1" fill="#a0a0a0"/>
<rect x="479.1" y="766.8" width="27.6" height="94.4" fill="#000"/>
<line x1="451.6" y1="752.7" x2="451.6" y2="755.1" stroke="#000" stroke-width="1.5" />
<line x1="445.1" y1="752.7" x2="458.2" y2="752.7" stroke="#000" stroke-width="1.5" />
<line x1="492.9" y1="762.7" x2="492.9" y2="766.8" stroke="#000" stroke-width="1.5" />
<line x1="486" y1="762.7" x2="499.9" y2="762.7" stroke="#000" stroke-width="1.5" />
<line x1="451.3" y1="861.2" x2="451.3" y2="864.8" stroke="#000" stroke-width="1.5" />
<line x1="492.6" y1="861.2" x2="492.6" y2="864.8" stroke="#000" stroke-width="1.5" />
<text x="451.3" y="877.1" font-family="Liberation Sans" font-size="11" font-weight="bold" text-anchor="middle" fill="#000" textLength="37.4" lengthAdjust="spacingAndGlyphs" >Control</text>
<text x="492.6" y="877.1" font-family="Liberation Sans" font-size="11" font-weight="bold" text-anchor="middle" fill="#000" textLength="20.1" lengthAdjust="spacingAndGlyphs" >FTD</text>
<line x1="442.9" y1="745.7" x2="499.9" y2="745.7" stroke="#000" stroke-width="1.4" />
<path d="M474.2,740.1L474.2,730.9M470.22,737.8L478.18,733.2M478.18,737.8L470.22,733.2" stroke="#000" stroke-width="1.6" fill="none"/>
<text transform="translate(390.9,803.6) rotate(-90)" x="0" y="0" font-family="Liberation Sans" font-size="12.5" font-weight="bold" text-anchor="middle" fill="#000" textLength="63.4" lengthAdjust="spacingAndGlyphs" >ATP (mg/L)</text>
</svg>
</body></html>
